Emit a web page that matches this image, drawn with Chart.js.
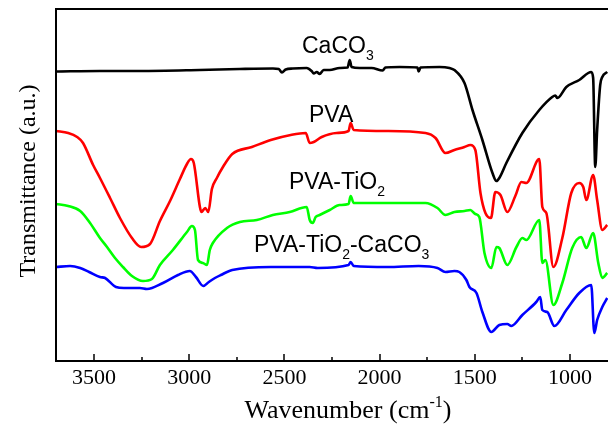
<!DOCTYPE html>
<html>
<head>
<meta charset="utf-8">
<script src="https://cdn.jsdelivr.net/npm/chart.js@4.4.1/dist/chart.umd.min.js"></script>
<style>
  html,body{margin:0;padding:0;background:#fff;}
  #wrap{width:608px;height:426px;}
</style>
</head>
<body>
<div id="wrap"><canvas id="ftir" width="608" height="426"></canvas></div>
<script>
/* ===== FTIR spectra (wavenumber in cm-1, transmittance in a.u., offset traces) ===== */
const wnCaCO3 = [3700,3470,3260,2945,2735,2560,2530,2513,2493,2456,2383,2357,2346,2330,2315,2294,2262,2210,2168,2157,2147,2105,2042,1984,1969,1895,1801,1795,1785,1685,1633,1607,1554,1512,1460,1407,1386,1371,1334,1250,1161,1093,1077,1066,1019,951,888,878,867,857,841,830,804];
const tCaCO3  = [289.5,290,290,291,292,292.5,292,288.5,291.5,292.5,293,290,287.5,289,287,291,291,293,293.5,301,294,293,293,290.5,293.5,294,293.5,289.5,293.5,294,293,291,278,251,221,188,180,183,198,228,251,264,265.5,263,274,281,289,283,194,231,276,284,289];

const wnPVA = [3700,3636,3589,3558,3505,3469,3416,3364,3301,3253,3206,3154,3101,3049,3012,2991,2976,2944,2936,2916,2900,2881,2855,2823,2774,2671,2572,2467,2388,2367,2346,2304,2226,2163,2152,2136,1958,1759,1706,1654,1607,1554,1523,1497,1470,1444,1415,1392,1365,1329,1287,1255,1229,1161,1145,1124,1087,1040,993,951,930,914,878,857,830,804];
const tPVA  = [230,228,224,218,196,183,163,143,123,114,117,140,160,182,197,202,198,154,149,153,149,172,183,194,207,214,221,226,228,218,219,224,228,230,238,231,230,228,223,208,211,214,216,211,168,148,143,169,166,149,165,179,178,202,154,148,94,123,168,178,174,161,186,161,131,136];

const wnPVATiO2 = [3700,3636,3573,3521,3469,3432,3390,3348,3301,3243,3196,3154,3086,3012,2986,2970,2954,2928,2907,2892,2876,2802,2734,2645,2561,2472,2383,2367,2351,2336,2315,2262,2210,2163,2152,2136,1958,1759,1696,1654,1607,1554,1523,1497,1476,1449,1413,1386,1371,1329,1281,1250,1229,1161,1145,1129,1087,1040,988,941,914,878,851,830,804];
const tPVATiO2  = [157,155,150,138,123,114,103,94,85,80,82,96,111,129,135,131,101,98,96,111,118,133,139,141,146,149,154,141,138,144,146,151,156,157,165,158,158,158,153,146,149,150,151,147,144,108,93,114,113,96,114,123,121,141,98,101,56,78,113,124,113,128,98,83,88];

const wnComposite = [3700,3626,3573,3526,3469,3442,3385,3343,3259,3222,3138,3059,2997,2965,2926,2897,2865,2834,2774,2572,2367,2325,2163,2152,2136,1958,1795,1696,1654,1607,1581,1544,1528,1491,1460,1413,1371,1329,1308,1250,1177,1156,1145,1119,1082,1019,951,888,872,857,830,804];
const tComposite  = [94,95,93,89,84,83,74,73,73,72,78,86,90,84,75,79,83,86,91,94,94,93,96,99,95,94,95,93,89,90,89,81,74,68,49,29,36,37,35,46,59,64,51,49,35,51,68,76,28,41,54,63];

const xMajorTicks = [3500,3000,2500,2000,1500,1000];
const xMinorTicks = [3250,2750,2250,1750,1250];

const pts = (xs, ys) => xs.map((x,i)=>({x:x, y:ys[i]}));
const serif = "'Liberation Serif','Times New Roman',serif";
const sans  = "'Liberation Sans',Arial,sans-serif";

// text with sub/superscript parts: [text, 'sub'|'sup'|null]
function richText(ctx, parts, x, y, size, fam){
  let cx = x;
  parts.forEach(([t, kind])=>{
    const s = kind ? Math.round(size*0.62) : size;
    ctx.font = s + 'px ' + fam;
    const dy = kind==='sub' ? size*0.3 : kind==='sup' ? -size*0.42 : 0;
    ctx.fillText(t, cx, y+dy);
    cx += ctx.measureText(t).width;
  });
  return cx - x;
}
function richWidth(ctx, parts, size, fam){
  let w = 0;
  parts.forEach(([t, kind])=>{
    ctx.font = (kind ? Math.round(size*0.62) : size) + 'px ' + fam;
    w += ctx.measureText(t).width;
  });
  return w;
}

const framePlugin = {
  id:'frame',
  afterDatasetsDraw(chart){
    const {ctx, chartArea:a, scales} = chart;
    ctx.save();
    ctx.strokeStyle = '#000';
    ctx.lineWidth = 2;
    ctx.beginPath();
    ctx.moveTo(chart.width+5, a.top); ctx.lineTo(a.left, a.top);
    ctx.lineTo(a.left, a.bottom); ctx.lineTo(chart.width+5, a.bottom);
    ctx.stroke();
    // inward ticks on bottom axis
    ctx.lineWidth = 1.5;
    xMajorTicks.forEach(v=>{
      const px = Math.round(scales.x.getPixelForValue(v));
      ctx.beginPath(); ctx.moveTo(px, a.bottom); ctx.lineTo(px, a.bottom-7); ctx.stroke();
    });
    xMinorTicks.forEach(v=>{
      const px = Math.round(scales.x.getPixelForValue(v));
      ctx.beginPath(); ctx.moveTo(px, a.bottom); ctx.lineTo(px, a.bottom-4); ctx.stroke();
    });
    ctx.restore();
  },
  afterDraw(chart){
    const {ctx} = chart;
    ctx.save();
    ctx.fillStyle = '#000';
    ctx.textBaseline = 'alphabetic';
    ctx.textAlign = 'left';
    // axis titles
    const xt = [['Wavenumber (cm',null],['-1','sup'],[')',null]];
    const w = richWidth(ctx, xt, 26, serif);
    richText(ctx, xt, 348 - w/2, 418, 26, serif);
    ctx.translate(29, 181);
    ctx.rotate(-Math.PI/2);
    ctx.font = '24px ' + serif;
    ctx.textAlign = 'center';
    ctx.textBaseline = 'middle';
    ctx.fillText('Transmittance (a.u.)', 0, 0);
    ctx.restore();
    // trace labels
    ctx.save();
    ctx.fillStyle = '#000';
    ctx.textBaseline = 'alphabetic';
    ctx.textAlign = 'left';
    richText(ctx, [['CaCO',null],['3','sub']], 302, 53, 23, sans);
    richText(ctx, [['PVA',null]], 309, 122, 23, sans);
    richText(ctx, [['PVA-TiO',null],['2','sub']], 289, 189, 23, sans);
    richText(ctx, [['PVA-TiO',null],['2','sub'],['-CaCO',null],['3','sub']], 254, 252, 23, sans);
    ctx.restore();
  }
};

const line = (data, color) => ({data, borderColor:color, borderWidth:2.6, pointRadius:0,
  cubicInterpolationMode:'monotone', fill:false});

new Chart(document.getElementById('ftir'), {
  type:'line',
  data:{ datasets:[
    line(pts(wnCaCO3, tCaCO3), '#000000'),
    line(pts(wnPVA, tPVA), '#ff0000'),
    line(pts(wnPVATiO2, tPVATiO2), '#00ff00'),
    line(pts(wnComposite, tComposite), '#0000ff')
  ]},
  options:{
    responsive:false, animation:false, devicePixelRatio:1,
    layout:{padding:{top:9, left:0, right:0, bottom:0}},
    plugins:{legend:{display:false}, tooltip:{enabled:false}},
    scales:{
      x:{ type:'linear', reverse:true, min:800, max:3700,
          grid:{display:false, drawTicks:false}, border:{display:false},
          afterBuildTicks: s => { s.ticks = xMajorTicks.map(v=>({value:v})); },
          afterFit: s => { s.height = 65; },
          ticks:{ padding:4, maxRotation:0, autoSkip:false, color:'#000',
                  font:{family:serif, size:22}, callback: v => String(v) } },
      y:{ type:'linear', min:0, max:352,
          grid:{display:false, drawTicks:false}, border:{display:false},
          ticks:{display:false},
          afterFit: s => { s.width = 56; } }
    }
  },
  plugins:[framePlugin]
});
</script>
</body>
</html>
